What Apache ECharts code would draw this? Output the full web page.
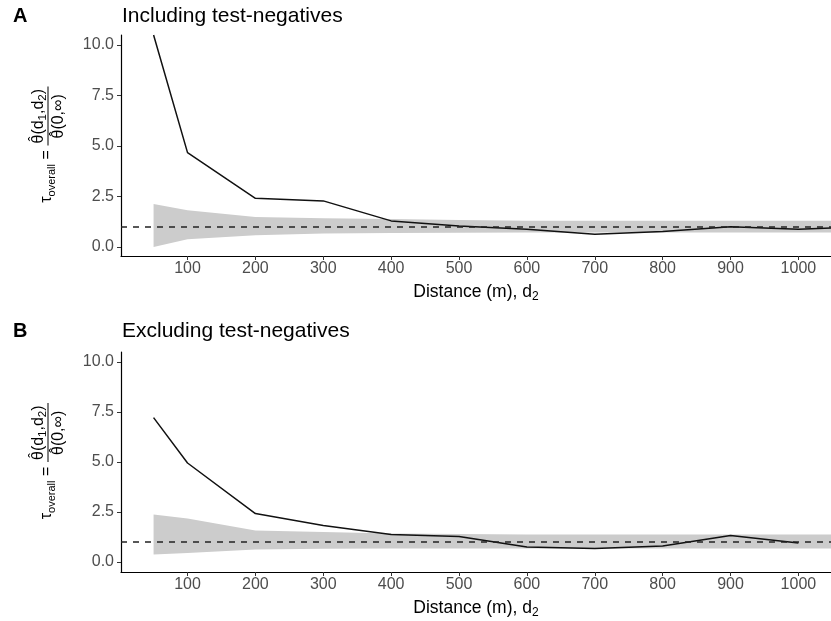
<!DOCTYPE html>
<html>
<head>
<meta charset="utf-8">
<script src="https://cdn.jsdelivr.net/npm/echarts@6/dist/echarts.min.js"></script>
<style>
html,body{margin:0;padding:0;background:#fff;}
#chart{width:831px;height:621px;}
</style>
</head>
<body>
<div id="chart"></div>
<script>
// ---- data ----
const panelTitles = ['Including test-negatives', 'Excluding test-negatives'];
const panelTags = ['A', 'B'];
const xTicks = [100, 200, 300, 400, 500, 600, 700, 800, 900, 1000];
const yTicks = [0, 2.5, 5, 7.5, 10];
const refLevel = 1;

const distA = [50, 100, 200, 300, 400, 500, 600, 700, 800, 900, 1000, 1050];
const tauA  = [10.5, 4.67, 2.41, 2.28, 1.29, 1.04, 0.88, 0.63, 0.76, 1.0, 0.88, 0.94];
const distB = [50, 100, 200, 300, 400, 500, 600, 700, 800, 900, 1000];
const tauB  = [7.22, 4.95, 2.42, 1.83, 1.37, 1.28, 0.75, 0.67, 0.80, 1.33, 0.95];

const bandX   = [50, 100, 200, 300, 400, 500, 600, 700, 800, 900, 1000, 1050];
const bandLoA = [0.00, 0.38, 0.58, 0.66, 0.69, 0.70, 0.71, 0.71, 0.71, 0.71, 0.71, 0.71];
const bandHiA = [2.13, 1.82, 1.48, 1.42, 1.38, 1.33, 1.30, 1.30, 1.30, 1.30, 1.30, 1.30];
const bandLoB = [0.38, 0.45, 0.62, 0.66, 0.67, 0.67, 0.67, 0.67, 0.67, 0.67, 0.67, 0.67];
const bandHiB = [2.37, 2.17, 1.57, 1.50, 1.42, 1.40, 1.37, 1.37, 1.37, 1.37, 1.37, 1.37];

// ---- build ----
const FONT = '"Liberation Sans", Arial, Helvetica, sans-serif';
const zip = (xs, ys) => xs.map((x, i) => [x, ys[i]]);

const grids = [
  {left: 121, top: 35, width: 715, height: 221},
  {left: 121, top: 352, width: 715, height: 220}
];
const yRanges = [[-0.45, 10.5], [-0.5, 10.5]];

const xAxes = grids.map((g, i) => ({
  type: 'value', gridIndex: i, min: 2, max: 1048,
  splitLine: {show: false},
  axisLine: {onZero: false, lineStyle: {color: '#000', width: 1.2}},
  axisTick: {length: 4, customValues: xTicks, lineStyle: {color: '#333', width: 1}},
  axisLabel: {customValues: xTicks, margin: 5, color: '#4d4d4d', fontSize: 16, fontFamily: FONT,
    formatter: v => String(v)},
  name: '{a|Distance (m), d}{s|2}',
  nameLocation: 'middle', nameGap: 25,
  nameTextStyle: {
    fontFamily: FONT,
    rich: {
      a: {fontSize: 17.5, color: '#000', fontFamily: FONT, lineHeight: 22, verticalAlign: 'middle'},
      s: {fontSize: 12, color: '#000', fontFamily: FONT, lineHeight: 12, verticalAlign: 'bottom'}
    }
  }
}));

const yAxes = grids.map((g, i) => ({
  type: 'value', gridIndex: i, min: yRanges[i][0], max: yRanges[i][1],
  splitLine: {show: false},
  axisLine: {show: true, onZero: false, lineStyle: {color: '#000', width: 1.2}},
  axisTick: {show: true, length: 4, customValues: yTicks, lineStyle: {color: '#333', width: 1}},
  axisLabel: {customValues: yTicks, margin: 7, color: '#4d4d4d', fontSize: 16, fontFamily: FONT,
    formatter: v => Number(v).toFixed(1)}
}));

const panels = [
  {dist: distA, tau: tauA, lo: bandLoA, hi: bandHiA},
  {dist: distB, tau: tauB, lo: bandLoB, hi: bandHiB}
];

const series = [];
panels.forEach((p, i) => {
  series.push({
    type: 'custom', xAxisIndex: i, yAxisIndex: i, silent: true, clip: true, z: 1,
    data: bandX.map((x, k) => [x, p.lo[k], p.hi[k]]),
    encode: {x: 0, y: [1, 2]},
    renderItem: (params, api) => {
      if (params.dataIndex !== 0) return null;
      const upper = bandX.map((x, k) => api.coord([x, p.hi[k]]));
      const lower = bandX.map((x, k) => api.coord([x, p.lo[k]])).reverse();
      return {
        type: 'polygon',
        shape: {points: upper.concat(lower)},
        style: {fill: '#cccccc', stroke: null}
      };
    }
  });
  series.push({
    type: 'line', xAxisIndex: i, yAxisIndex: i,
    data: zip(p.dist, p.tau), symbol: 'none', silent: true,
    lineStyle: {color: '#111', width: 1.5}, z: 3,
    markLine: {
      silent: true, symbol: ['none', 'none'], label: {show: false},
      lineStyle: {type: [6, 6], color: '#222', width: 1.6},
      data: [{yAxis: refLevel}]
    }
  });
});

const richT = {fontSize: 16, fontFamily: FONT, fill: '#000', lineHeight: 20, verticalAlign: 'middle'};
const richS = {fontSize: 11.5, fontFamily: FONT, fill: '#000', lineHeight: 11, verticalAlign: 'bottom'};

function yLabelGroup(cx, cy) {
  // local frame: +x = up the page, +y = to the right on the page
  const numStart = 2;
  const denStart = 7;
  const hatFont = '14px ' + FONT;
  return {
    type: 'group', x: cx, y: cy, rotation: Math.PI / 2, silent: true,
    children: [
      {type: 'text', x: -31, y: -1, style: {
        text: '{t|τ}{s|overall}{t| =}', align: 'center', verticalAlign: 'middle',
        rich: {t: richT, s: {fontSize: 11, fontFamily: FONT, fill: '#000', lineHeight: 11, verticalAlign: 'bottom'}}}},
      {type: 'rect', shape: {x: 0, y: -0.5, width: 59, height: 1}, style: {fill: '#000'}},
      {type: 'text', x: numStart, y: -9, style: {
        text: '{t|θ(d}{s|1}{t|,d}{s|2}{t|)}', align: 'left', verticalAlign: 'middle',
        rich: {t: richT, s: richS}}},
      {type: 'text', x: numStart + 4.5, y: -12.5, style: {
        text: 'ˆ', align: 'center', verticalAlign: 'middle', font: hatFont, fill: '#000'}},
      {type: 'text', x: denStart, y: 11, style: {
        text: 'θ(0,∞)', align: 'left', verticalAlign: 'middle',
        font: '16px ' + FONT, fill: '#000'}},
      {type: 'text', x: denStart + 4.5, y: 8.3, style: {
        text: 'ˆ', align: 'center', verticalAlign: 'middle', font: hatFont, fill: '#000'}}
    ]
  };
}

const graphic = [];
[16, 331].forEach((ty, i) => {
  graphic.push({type: 'text', x: 13, y: ty, silent: true,
    style: {text: panelTags[i], font: 'bold 20px ' + FONT, fill: '#000', verticalAlign: 'middle'}});
  graphic.push({type: 'text', x: 122, y: ty, silent: true,
    style: {text: panelTitles[i], font: '21px ' + FONT, fill: '#000', verticalAlign: 'middle'}});
});
graphic.push(yLabelGroup(48, 145.5));
graphic.push(yLabelGroup(48, 462));

const chart = echarts.init(document.getElementById('chart'), null, {renderer: 'canvas'});
chart.setOption({
  animation: false,
  backgroundColor: '#fff',
  grid: grids,
  xAxis: xAxes,
  yAxis: yAxes,
  series: series,
  graphic: graphic
});
</script>
</body>
</html>
